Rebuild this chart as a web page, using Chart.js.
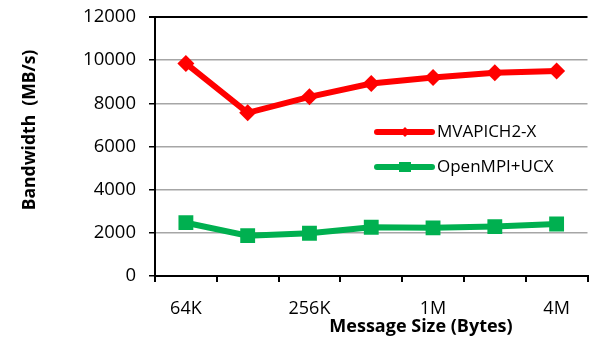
<!DOCTYPE html>
<html>
<head>
<meta charset="utf-8">
<script src="https://cdn.jsdelivr.net/npm/chart.js@4"></script>
<style>
  html, body { margin: 0; padding: 0; background: #fff; overflow: hidden; }
  #wrap { width: 598px; height: 340px; }
</style>
</head>
<body>
<div id="wrap"><canvas id="bwChart" width="598" height="340"></canvas></div>
<script>
var sizes = ['64K', '128K', '256K', '512K', '1M', '2M', '4M'];
var shownLabels = ['64K', '256K', '1M', '4M'];
var mvapich = [9850, 7560, 8300, 8920, 9200, 9420, 9500];
var openmpi = [2470, 1870, 1980, 2260, 2230, 2290, 2410];
var yTicks = [0, 2000, 4000, 6000, 8000, 10000, 12000];
var yTitle = 'Bandwidth  (MB/s)';
var xTitle = 'Message Size (Bytes)';

var FONT = '"Open Sans", "Liberation Sans", sans-serif';

// legend and axis titles drawn by hand, like the original
var extras = {
  id: 'extras',
  afterDraw: function (chart) {
    var ctx = chart.ctx;
    var area = chart.chartArea;
    var x0 = area.left + 222;
    var y0 = area.top + 115;
    chart.data.datasets.forEach(function (ds, i) {
      var y = y0 + i * 35;
      ctx.save();
      ctx.strokeStyle = ds.borderColor;
      ctx.lineWidth = 6;
      ctx.lineCap = 'round';
      ctx.beginPath();
      ctx.moveTo(x0, y);
      ctx.lineTo(x0 + 55, y);
      ctx.stroke();
      ctx.fillStyle = ds.borderColor;
      var mx = x0 + 28;
      ctx.beginPath();
      if (ds.pointStyle === 'rectRot') {
        ctx.moveTo(mx, y - 5);
        ctx.lineTo(mx + 5, y);
        ctx.lineTo(mx, y + 5);
        ctx.lineTo(mx - 5, y);
        ctx.closePath();
      } else {
        ctx.rect(mx - 6, y - 5, 12, 10);
      }
      ctx.fill();
      ctx.fillStyle = '#000';
      ctx.font = '17px ' + FONT;
      ctx.textBaseline = 'middle';
      ctx.fillText(ds.label, x0 + 60, y);
      ctx.restore();
    });

    ctx.save();
    ctx.fillStyle = '#000';
    ctx.textAlign = 'center';
    ctx.textBaseline = 'middle';
    ctx.font = 'bold 18px ' + FONT;
    ctx.fillText(xTitle, 421, 327);
    ctx.translate(30, 130);
    ctx.rotate(-Math.PI / 2);
    ctx.font = 'bold 17.5px ' + FONT;
    ctx.fillText(yTitle, 0, 0);
    ctx.restore();
  }
};

new Chart(document.getElementById('bwChart').getContext('2d'), {
  type: 'line',
  data: {
    labels: sizes,
    datasets: [{
      label: 'MVAPICH2-X',
      data: mvapich,
      borderColor: '#FF0000',
      backgroundColor: '#FF0000',
      borderWidth: 6,
      pointStyle: 'rectRot',
      pointRadius: 8.5,
      pointBorderWidth: 0,
      tension: 0
    }, {
      label: 'OpenMPI+UCX',
      data: openmpi,
      borderColor: '#00B050',
      backgroundColor: '#00B050',
      borderWidth: 6,
      pointStyle: 'rect',
      pointRadius: 10.5,
      pointBorderWidth: 0,
      tension: 0
    }]
  },
  options: {
    responsive: false,
    animation: false,
    layout: { padding: { top: 17, right: 2, left: 0, bottom: 0 } },
    plugins: {
      legend: { display: false },
      tooltip: { enabled: false }
    },
    scales: {
      x: {
        offset: true,
        grid: {
          offset: true,
          drawOnChartArea: false,
          drawTicks: true,
          tickLength: 6,
          color: '#000',
          lineWidth: 2
        },
        border: { color: '#000', width: 2 },
        ticks: {
          autoSkip: false,
          maxRotation: 0,
          color: '#000',
          font: { family: FONT, size: 18 },
          padding: 16,
          callback: function (v, i) {
            var lab = sizes[i];
            return shownLabels.indexOf(lab) >= 0 ? lab : '';
          }
        },
        title: { display: false },
        afterFit: function (scale) {
          scale.height = 64;
          scale.paddingLeft = 0;
          scale.paddingRight = 0;
        }
      },
      y: {
        min: 0,
        max: 12000,
        afterBuildTicks: function (scale) {
          scale.ticks = yTicks.map(function (v) { return { value: v }; });
        },
        grid: {
          color: function (c) { return c.tick && c.tick.value === 12000 ? '#000' : '#a6a6a6'; },
          lineWidth: function (c) { return c.tick && c.tick.value === 12000 ? 2 : 1.5; },
          tickColor: '#000',
          tickLength: 6
        },
        border: { color: '#000', width: 2 },
        ticks: {
          color: '#000',
          font: { family: FONT, size: 18.5 },
          padding: 13,
          callback: function (v) { return String(v); }
        },
        title: { display: false },
        afterFit: function (scale) {
          scale.width = 155;
          scale.paddingTop = 0;
          scale.paddingBottom = 0;
        }
      }
    }
  },
  plugins: [extras]
});
</script>
</body>
</html>
